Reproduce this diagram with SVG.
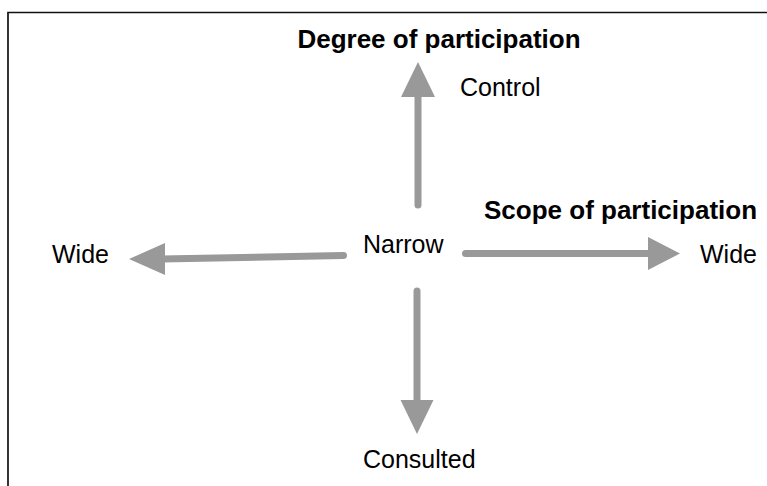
<svg xmlns="http://www.w3.org/2000/svg" width="767" height="486" viewBox="0 0 767 486">
<style>
.t{font-family:"Liberation Sans",Arial,sans-serif;font-size:25px;fill:#000}
.b{font-family:"Liberation Sans",Arial,sans-serif;font-size:26px;font-weight:bold;fill:#000}
.s{stroke:#999;stroke-width:7;stroke-linecap:round;fill:none}
.h{fill:#999}
</style>
<rect x="0" y="0" width="767" height="486" fill="#fff"/>
<path d="M8 490 V12.5 H770" fill="none" stroke="#111" stroke-width="1.7"/>
<g id="title-degree"><text class="b" x="439" y="48" text-anchor="middle">Degree of participation</text></g>
<g id="control"><text class="t" x="460" y="96">Control</text></g>
<g id="title-scope"><text class="b" x="484" y="219">Scope of participation</text></g>
<g id="narrow"><text class="t" x="363" y="253">Narrow</text></g>
<g id="wide-left"><text class="t" x="52" y="263">Wide</text></g>
<g id="wide-right"><text class="t" x="700" y="263">Wide</text></g>
<g id="consulted"><text class="t" x="363" y="468">Consulted</text></g>
<g id="connectors">
<path class="s" d="M418 205 V94"/>
<polygon class="h" points="418,62 435,97 401,97"/>
<path class="s" d="M343.5 255.5 L162 259"/>
<polygon class="h" points="129,259 165,243 165,275"/>
<path class="s" d="M465.5 253.5 H650"/>
<polygon class="h" points="680,253.5 648,237 648,270"/>
<path class="s" d="M417 291 V402"/>
<polygon class="h" points="417,434 400.5,400 433.5,400"/>
</g>
</svg>
